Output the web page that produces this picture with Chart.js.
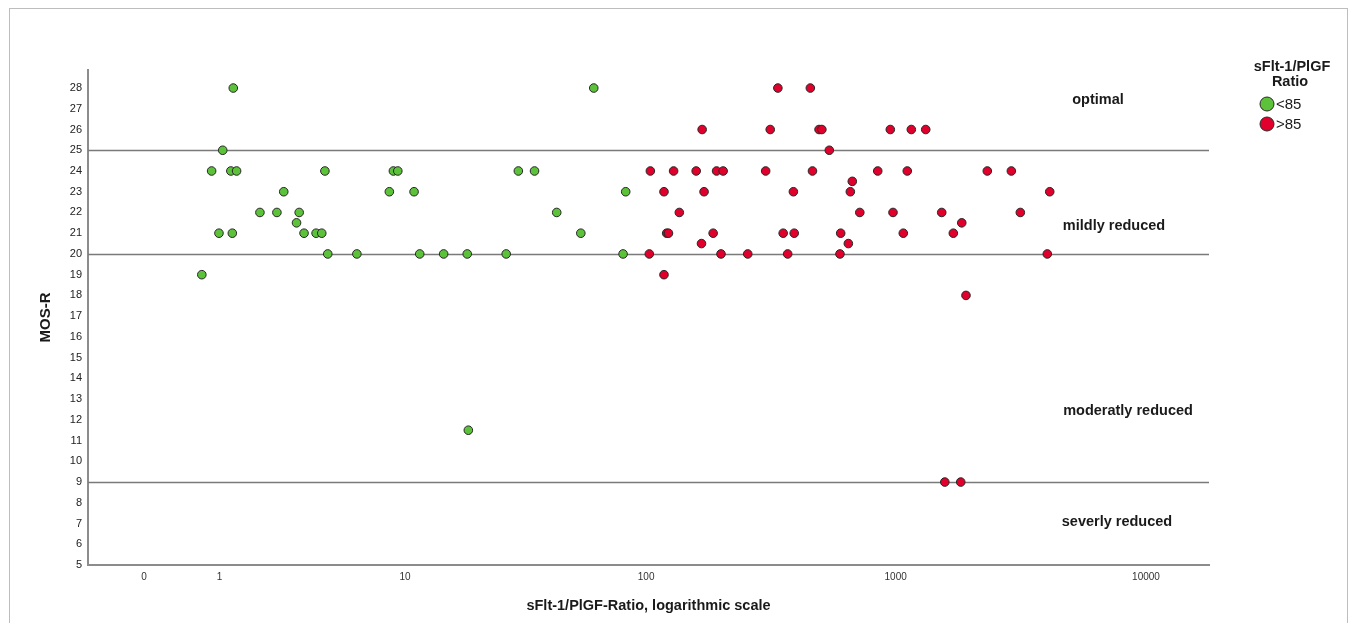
<!DOCTYPE html>
<html>
<head>
<meta charset="utf-8">
<script src="https://cdn.jsdelivr.net/npm/chart.js@4.4.1/dist/chart.umd.min.js"></script>
<style>
  html, body { margin: 0; padding: 0; background: #fff; }
  #wrap { position: relative; width: 1355px; height: 623px; }
</style>
</head>
<body>
<div id="wrap"><canvas id="chart"></canvas></div>
<script>
// sFlt-1/PlGF ratio (x) and MOS-R (y)
// ratio < 85
const lowRatio = [1.27, 1.06, 0.86, 1.22, 1.34, 4.27, 8.89, 9.30, 2.61, 8.53, 10.96, 1.90, 2.39, 3.16, 3.06,
                  0.99, 1.25, 3.35, 3.86, 4.12, 4.41, 6.07, 11.6, 14.7, 0.70, 61.4, 30.2, 35.2, 82.7, 43.4,
                  54.4, 18.5, 26.9, 80.7, 18.7];
const lowMosR  = [28, 25, 24, 24, 24, 24, 24, 24, 23, 23, 23, 22, 22, 22, 21.5,
                  21, 21, 21, 21, 21, 20, 20, 20, 20, 19, 28, 24, 24, 23, 22,
                  21, 20, 20, 20, 11.5];

// ratio > 85
const highRatio = [338, 456,
                   168, 315, 494, 507, 952, 1155, 1319,
                   543,
                   104, 129, 159, 192, 204, 302, 465, 848, 1113, 2324, 2899,
                   671,
                   118, 171, 390, 659, 4126,
                   136, 719, 976, 1528, 3148,
                   1837,
                   121, 123, 186, 355, 393, 603, 1073, 1700,
                   167, 647,
                   103, 200, 256, 370, 599, 4035,
                   118,
                   1910,
                   1572, 1820];
const highMosR  = [28, 28,
                   26, 26, 26, 26, 26, 26, 26,
                   25,
                   24, 24, 24, 24, 24, 24, 24, 24, 24, 24, 24,
                   23.5,
                   23, 23, 23, 23, 23,
                   22, 22, 22, 22, 22,
                   21.5,
                   21, 21, 21, 21, 21, 21, 21, 21,
                   20.5, 20.5,
                   20, 20, 20, 20, 20, 20,
                   19,
                   18,
                   9, 9];

const xTickValues = [0, 1, 10, 100, 1000, 10000];
const xTickLabels = ['0', '1', '10', '100', '1000', '10000'];
const yTickValues = [5, 6, 7, 8, 9, 10, 11, 12, 13, 14, 15, 16, 17, 18, 19, 20, 21, 22, 23, 24, 25, 26, 27, 28];
const cutoffs = [25, 20, 9];
const regionNames = ['optimal', 'mildly reduced', 'moderatly reduced', 'severly reduced'];
const groupLabels = ['<85', '>85'];
const legendTitle = ['sFlt-1/PlGF', 'Ratio'];

const GREEN = '#5cc23a';
const RED = '#e0002b';
const FONT = "'Liberation Sans', Arial, sans-serif";

// axis is log10(ratio + 1) so that 0 can be shown
const toAxis = v => Math.log10(v + 1);
const toPoints = (xs, ys) => xs.map((x, i) => ({ x: toAxis(x), y: ys[i] }));

const decorations = {
  id: 'decorations',
  beforeDatasetsDraw(chart) {
    const { ctx, chartArea, scales: { y } } = chart;
    ctx.save();
    ctx.strokeStyle = '#7a7a7a';
    ctx.lineWidth = 1.5;
    cutoffs.forEach(c => {
      const py = Math.round(y.getPixelForValue(c)) + 0.5;
      ctx.beginPath();
      ctx.moveTo(chartArea.left, py);
      ctx.lineTo(chartArea.right, py);
      ctx.stroke();
    });
    ctx.restore();
  },
  afterDraw(chart) {
    const { ctx } = chart;
    ctx.save();
    // outer frame
    ctx.strokeStyle = '#bdbdbd';
    ctx.lineWidth = 1;
    ctx.strokeRect(9.5, 8.5, 1338, 700);

    // region labels
    const spots = [[1098, 100], [1114, 226], [1128, 411], [1117, 522]];
    ctx.fillStyle = '#1a1a1a';
    ctx.font = 'bold 14.5px ' + FONT;
    ctx.textAlign = 'center';
    ctx.textBaseline = 'middle';
    regionNames.forEach((t, i) => ctx.fillText(t, spots[i][0], spots[i][1]));

    // legend
    ctx.font = 'bold 14.5px ' + FONT;
    ctx.fillText(legendTitle[0], 1292, 67);
    ctx.fillText(legendTitle[1], 1290, 82);
    const colors = [GREEN, RED];
    ctx.font = '15px ' + FONT;
    ctx.textAlign = 'left';
    groupLabels.forEach((t, i) => {
      const cy = 104 + i * 20;
      ctx.beginPath();
      ctx.arc(1267, cy, 7, 0, Math.PI * 2);
      ctx.fillStyle = colors[i];
      ctx.fill();
      ctx.strokeStyle = '#2a2a2a';
      ctx.lineWidth = 1;
      ctx.stroke();
      ctx.fillStyle = '#1a1a1a';
      ctx.fillText(t, 1276, cy + 1);
    });
    ctx.restore();
  }
};

new Chart(document.getElementById('chart'), {
  type: 'scatter',
  data: {
    datasets: [
      { label: groupLabels[0], data: toPoints(lowRatio, lowMosR), backgroundColor: GREEN },
      { label: groupLabels[1], data: toPoints(highRatio, highMosR), backgroundColor: RED }
    ]
  },
  options: {
    responsive: true,
    maintainAspectRatio: false,
    animation: false,
    layout: { padding: { left: 0, top: 70, right: 146, bottom: 0 } },
    elements: {
      point: { radius: 4.3, borderWidth: 1, borderColor: '#262626', hoverRadius: 4.3 }
    },
    plugins: { legend: { display: false }, tooltip: { enabled: false } },
    scales: {
      x: {
        type: 'linear',
        min: -0.224,
        max: 4.2515,
        afterBuildTicks: s => { s.ticks = xTickValues.map(v => ({ value: toAxis(v) })); },
        afterFit: s => { s.height = 58; },
        ticks: {
          callback: (v, i) => xTickLabels[i],
          autoSkip: false,
          maxRotation: 0,
          padding: 6,
          color: '#333',
          font: { family: FONT, size: 10 }
        },
        grid: { display: false, drawTicks: false },
        border: { display: true, color: '#8c8c8c', width: 2 },
        title: {
          display: true,
          text: 'sFlt-1/PlGF-Ratio, logarithmic scale',
          color: '#1a1a1a',
          font: { family: FONT, size: 14.5, weight: 'bold' },
          padding: { top: 0, bottom: 8 }
        }
      },
      y: {
        type: 'linear',
        min: 5,
        max: 28.87,
        afterBuildTicks: s => { s.ticks = yTickValues.map(v => ({ value: v })); },
        afterFit: s => { s.width = 88; },
        ticks: {
          padding: 6,
          color: '#222',
          font: { family: FONT, size: 11 }
        },
        grid: { display: false, drawTicks: false },
        border: { display: true, color: '#8c8c8c', width: 2 },
        title: {
          display: true,
          text: 'MOS-R',
          color: '#1a1a1a',
          font: { family: FONT, size: 15, weight: 'bold' },
          padding: { top: 37, bottom: 0 }
        }
      }
    }
  },
  plugins: [decorations]
});
</script>
</body>
</html>
